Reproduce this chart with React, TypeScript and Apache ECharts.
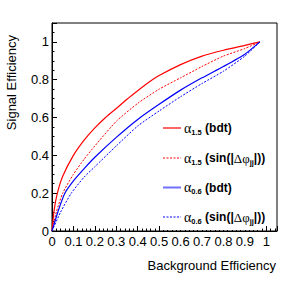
import React, { useEffect, useRef } from "react";
import * as echarts from "echarts";

// ROC curves: [background efficiency, signal efficiency]
const alpha15Bdt: [number, number][] = [
  [0, 0], [0.01, 0.11], [0.025, 0.2], [0.05, 0.29], [0.1, 0.4], [0.15, 0.48], [0.2, 0.545],
  [0.25, 0.6], [0.3, 0.648], [0.35, 0.697], [0.4, 0.742], [0.45, 0.785], [0.5, 0.822],
  [0.6, 0.88], [0.7, 0.925], [0.8, 0.956], [0.9, 0.982], [0.97, 1.0],
];
const alpha15Sin: [number, number][] = [
  [0, 0], [0.02, 0.1], [0.05, 0.2], [0.1, 0.3], [0.15, 0.38], [0.2, 0.45], [0.3, 0.58],
  [0.4, 0.675], [0.5, 0.75], [0.6, 0.81], [0.7, 0.87], [0.8, 0.925], [0.9, 0.965], [0.97, 1.0],
];
const alpha06Bdt: [number, number][] = [
  [0, 0], [0.03, 0.11], [0.06, 0.2], [0.1, 0.265], [0.15, 0.33], [0.2, 0.39], [0.3, 0.495],
  [0.4, 0.59], [0.5, 0.67], [0.6, 0.745], [0.7, 0.81], [0.8, 0.87], [0.9, 0.935], [0.97, 1.0],
];
const alpha06Sin: [number, number][] = [
  [0, 0], [0.04, 0.1], [0.09, 0.2], [0.15, 0.285], [0.2, 0.34], [0.3, 0.45], [0.4, 0.555],
  [0.5, 0.635], [0.6, 0.71], [0.7, 0.78], [0.8, 0.845], [0.9, 0.925], [0.97, 1.0],
];

const seriesNames = ["alpha15Bdt", "alpha15Sin", "alpha06Bdt", "alpha06Sin"];
const legendSubs = ["1.5", "1.5", "0.6", "0.6"];
const xTitle = "Background Efficiency";
const yTitle = "Signal Efficiency";

const RED = "#ff0000";
const BLUE = "#0000ff";
const FONT = "Liberation Sans, Arial, sans-serif";

export default function App() {
  const ref = useRef<HTMLDivElement>(null);
  useEffect(() => {
    if (!ref.current) return;
    const chart = echarts.init(ref.current, undefined, { renderer: "svg" });
    const fmt = (v: number) => (v > 1.001 ? "" : String(+v.toFixed(1)));
    const rich = {
      a: { fontFamily: "Liberation Serif, serif", fontSize: 14, lineHeight: 16, verticalAlign: "middle" as const, fill: "#000" },
      s: { fontFamily: FONT, fontSize: 7.5, fontWeight: "bold" as const, lineHeight: 9, verticalAlign: "bottom" as const, fill: "#000" },
      b: { fontFamily: FONT, fontSize: 12, fontWeight: "bold" as const, lineHeight: 16, verticalAlign: "middle" as const, fill: "#000" },
      g: { fontFamily: "Liberation Serif, serif", fontSize: 13, lineHeight: 16, verticalAlign: "middle" as const, fill: "#000" },
    };
    const rowY = [128, 158, 187.5, 217];
    const lineStyles = [
      { stroke: RED, lineWidth: 1.2 },
      { stroke: RED, lineWidth: 1, lineDash: [2, 1.5] },
      { stroke: "#7070ff", lineWidth: 2 },
      { stroke: BLUE, lineWidth: 1, lineDash: [2, 1.5] },
    ];
    const legendEls: any[] = [];
    seriesNames.forEach((n, i) => {
      legendEls.push({
        type: "line",
        z: 101,
        shape: { x1: 163, y1: rowY[i], x2: 181, y2: rowY[i] },
        style: lineStyles[i],
      });
      const isSin = n.endsWith("Sin");
      const text = isSin
        ? `{a|α}{s|${legendSubs[i]}}{b| (sin(|}{g|Δφ}{s|jj}{b||))}`
        : `{a|α}{s|${legendSubs[i]}}{b| (bdt)}`;
      legendEls.push({
        type: "text",
        z: 101,
        x: 184,
        y: rowY[i],
        style: { text, rich, verticalAlign: "middle", align: "left" },
      });
    });
    const line = (data: [number, number][], color: string, dashed: boolean) => ({
      type: "line",
      data,
      smooth: 0.2,
      showSymbol: false,
      z: dashed ? 4 : 5,
      lineStyle: { color, width: dashed ? 1 : 1.2, type: dashed ? [2, 1.5] : "solid" },
    });
    chart.setOption({
      animation: false,
      grid: { left: 52, right: 14, top: 23, bottom: 60, show: true, borderColor: "#000", borderWidth: 1, backgroundColor: "transparent" },
      xAxis: {
        type: "value",
        min: 0,
        max: 1.05,
        interval: 0.1,
        splitLine: { show: false },
        axisLine: { onZero: false, lineStyle: { color: "#000", width: 1 } },
        axisTick: { inside: true, length: 5, lineStyle: { color: "#000" } },
        minorTick: { show: true, splitNumber: 5, length: 2.5, lineStyle: { color: "#000" } },
        axisLabel: { showMaxLabel: false, formatter: fmt, color: "#000", fontSize: 13, fontFamily: FONT, margin: 4 },
      },
      yAxis: {
        type: "value",
        min: 0,
        max: 1.1,
        interval: 0.2,
        splitLine: { show: false },
        axisLine: { onZero: false, lineStyle: { color: "#000", width: 1 } },
        axisTick: { inside: true, length: 5, lineStyle: { color: "#000" } },
        minorTick: { show: true, splitNumber: 4, length: 2.5, lineStyle: { color: "#000" } },
        axisLabel: { showMaxLabel: false, formatter: fmt, color: "#000", fontSize: 13, fontFamily: FONT, margin: 3 },
      },
      series: [
        { name: seriesNames[0], ...line(alpha15Bdt, RED, false) },
        { name: seriesNames[1], ...line(alpha15Sin, RED, true) },
        { name: seriesNames[2], ...line(alpha06Bdt, BLUE, false) },
        { name: seriesNames[3], ...line(alpha06Sin, BLUE, true) },
      ],
      graphic: [
        { type: "rect", z: 100, shape: { x: 161, y: 112, width: 99, height: 118 }, style: { fill: "#fff" } },
        ...legendEls,
        {
          type: "text", z: 101, x: 276, y: 265,
          style: { text: xTitle, align: "right", verticalAlign: "middle", fontFamily: FONT, fontSize: 13, fill: "#000" },
        },
        {
          type: "text", z: 101, x: 11, y: 35, rotation: Math.PI / 2,
          style: { text: yTitle, align: "right", verticalAlign: "middle", fontFamily: FONT, fontSize: 13, fill: "#000" },
        },
      ],
    });
    return () => chart.dispose();
  }, []);
  return <div ref={ref} style={{ width: 291, height: 291, position: "absolute", left: 0, top: 0 }} />;
}
